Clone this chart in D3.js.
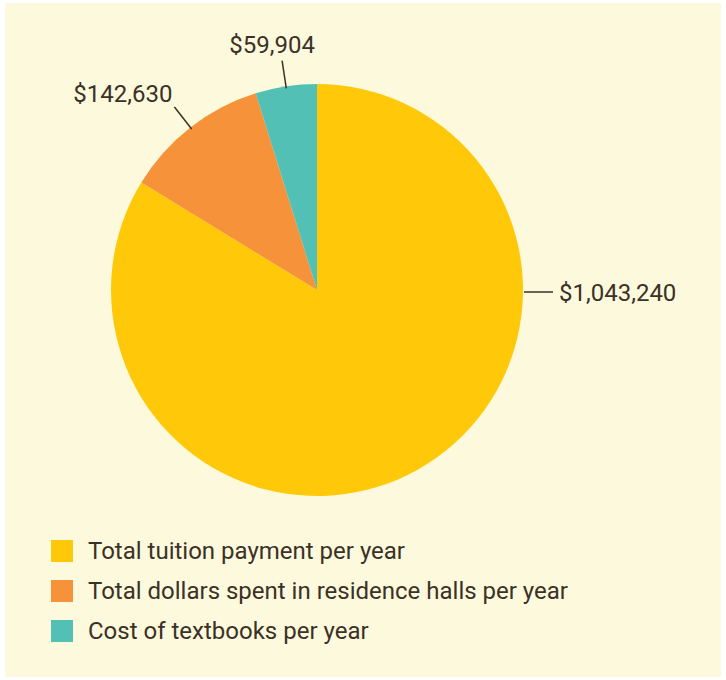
<!DOCTYPE html>
<html><head><meta charset="utf-8">
<script src="https://cdn.jsdelivr.net/npm/d3@7"></script>
<style>html,body{margin:0;padding:0;background:#fff;}</style>
</head><body>
<script>
const categories = ["Total tuition payment per year", "Total dollars spent in residence halls per year", "Cost of textbooks per year"];
const values = [1043240, 142630, 59904];
const valueLabels = ["$1,043,240", "$142,630", "$59,904"];
const colors = ["#ffc90a", "#f6923a", "#53c0b5"];

const W = 726, H = 680;
const svg = d3.select("body").append("svg").attr("width", W).attr("height", H);
svg.append("rect").attr("x", 5).attr("y", 3).attr("width", 716).attr("height", 674).attr("fill", "#fdf9dc");

const cx = 317, cy = 290, r = 206, rOut = 232;
const font = "Roboto, 'Open Sans', sans-serif";
const textColor = "#3b3127";

const data = categories.map((c, i) => ({cat: c, value: values[i], label: valueLabels[i], color: colors[i]}));
const pie = d3.pie().value(d => d.value).sort(null);
const arcs = pie(data);
const arc = d3.arc().innerRadius(0).outerRadius(r);

const g = svg.append("g").attr("transform", `translate(${cx},${cy})`);
g.selectAll("path").data(arcs).join("path").attr("d", arc).attr("fill", d => d.data.color);

// labels
const pt = (a, rad) => [Math.sin(a) * rad, -Math.cos(a) * rad];
arcs.forEach((d, i) => {
  if (i === 0) {
    // big slice labeled at 3 o'clock
    g.append("line").attr("x1", r + 1).attr("y1", 2).attr("x2", r + 30).attr("y2", 2)
      .attr("stroke", textColor).attr("stroke-width", 1.5);
    g.append("text").attr("x", r + 36).attr("y", 11).text(d.data.label)
      .attr("font-family", font).attr("font-size", 24).attr("fill", textColor);
  } else {
    const a = (d.startAngle + d.endAngle) / 2;
    const [x1, y1] = pt(a, r - 2);
    const [x2, y2] = pt(a, rOut);
    g.append("line").attr("x1", x1).attr("y1", y1).attr("x2", x2).attr("y2", y2)
      .attr("stroke", textColor).attr("stroke-width", 1.5);
    const t = g.append("text").text(d.data.label)
      .attr("font-family", font).attr("font-size", 24).attr("fill", textColor);
    if (i === 1) t.attr("x", x2 - 2).attr("y", y2 - 5).attr("text-anchor", "end");
    else t.attr("x", x2 - 10).attr("y", y2 - 8).attr("text-anchor", "middle");
  }
});

// legend
const leg = svg.append("g").attr("transform", "translate(51,540)");
const rows = leg.selectAll("g").data(data).join("g").attr("transform", (d, i) => `translate(0,${i * 40})`);
rows.append("rect").attr("width", 22).attr("height", 22).attr("fill", d => d.color);
rows.append("text").attr("x", 37).attr("y", 19).text(d => d.cat)
  .attr("font-family", font).attr("font-size", 24).attr("fill", textColor);
</script>
</body></html>
